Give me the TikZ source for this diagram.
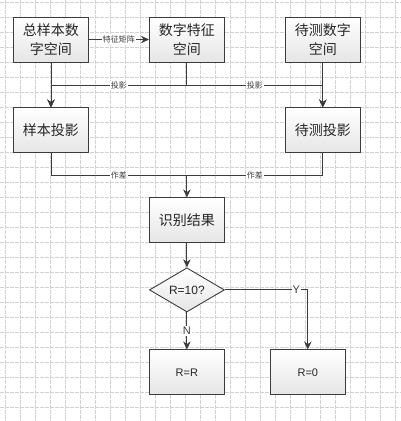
\documentclass[tikz,border=0pt]{standalone}
\usepackage{fontspec}
\setmainfont{Liberation Sans}
\newfontfamily\cjk{Noto Sans CJK SC}
\usetikzlibrary{arrows.meta,calc,positioning,shapes.geometric}
\definecolor{xk}{HTML}{3C3C3C}
\definecolor{wg}{HTML}{D2D2D2}

\begin{document}
\begin{tikzpicture}[x=1pt, y=1pt, >={Stealth[length=8pt,width=7.5pt]},
        node distance = 45pt and 60pt,
          box/.style = {draw=xk, line width=0.9pt, minimum width=75pt, minimum height=45pt,
                        inner sep=0pt, align=center, top color=white, bottom color=gray!20,
                        text=black!85, font=\cjk\fontsize{14}{19}\selectfont},
          dia/.style = {diamond, draw=xk, line width=0.9pt, minimum width=75pt, minimum height=44pt,
                        inner sep=0pt, top color=white, bottom color=gray!20,
                        text=black!85, font=\fontsize{12}{12}\selectfont},
          lbl/.style = {fill=white, inner sep=1pt, text=xk, font=\cjk\fontsize{8}{8}\selectfont},
          yn/.style  = {fill=white, inner sep=1pt, text=xk, font=\fontsize{11}{11}\selectfont},
         xian/.style = {draw=xk, line width=0.9pt},
                            ]
    \useasboundingbox (0,0) rectangle (401,-421);
    % grid
    \foreach \i in {0,...,26}
      \draw[wg, line width=0.5pt, dash pattern=on 4pt off 1pt] (5+15*\i,0) -- (5+15*\i,-421);
    \foreach \j in {0,...,27}
      \draw[wg, line width=0.5pt, dash pattern=on 4pt off 1pt] (0,-2-15*\j) -- (401,-2-15*\j);
    %
    \node[box] (zyb) at (51,-39.5) {总样本数\\字空间};
    \node[box, right=of zyb] (tz) {数字特征\\空间};
    \node[box, right=of tz] (dc) {待测数字\\空间};
    \node[box, below=of zyb] (yb) {样本投影};
    \node[box, below=of dc] (dt) {待测投影};
    \node[box, below=135pt of tz] (sb) {识别结果};
    \node[dia, below=24pt of sb] (pd) {R=10?};
    \node[box, below=37pt of pd, font=\fontsize{11}{11}\selectfont] (rr) {R=R};
    \node[box, right=45pt of rr, font=\fontsize{11}{11}\selectfont] (r0) {R=0};
    %
    \coordinate (ty) at ($(tz.south)+(0,-23)$);
    \coordinate (zc) at ($(sb.north)+(0,22)$);
    \draw[xian,->] (zyb) -- node[lbl]{特征矩阵} (tz);
    \draw[xian,->] (zyb) -- (yb);
    \draw[xian,->] (dc) -- (dt);
    \draw[xian,->] (tz) -- (ty) -| node[lbl,pos=0.25]{投影} (yb);
    \draw[xian,->] (ty) -| node[lbl,pos=0.25]{投影} (dt);
    \draw[xian] (yb) |- node[lbl,pos=0.75]{作差} (zc);
    \draw[xian] (dt) |- node[lbl,pos=0.75]{作差} (zc);
    \draw[xian,->] (zc) -- (sb);
    \draw[xian,->] (sb) -- (pd);
    \draw[xian,->] (pd) -- node[yn]{N} (rr);
    \draw[xian,->] (pd) -| node[yn,pos=0.43]{Y} (r0);
\end{tikzpicture}
\end{document}
